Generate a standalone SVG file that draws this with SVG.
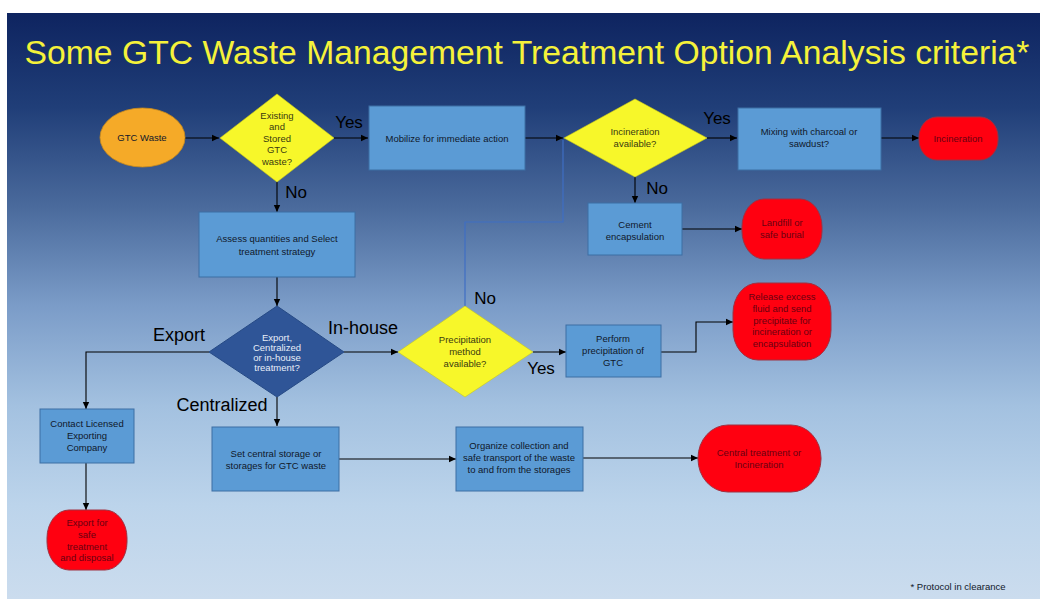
<svg xmlns="http://www.w3.org/2000/svg" width="1040" height="599" viewBox="0 0 1040 599">
  <defs>
    <linearGradient id="bg" x1="0" y1="0" x2="0" y2="1">
      <stop offset="0" stop-color="#0e2460"/>
      <stop offset="0.16" stop-color="#203e78"/>
      <stop offset="0.33" stop-color="#4a6a9c"/>
      <stop offset="0.5" stop-color="#7b9cc8"/>
      <stop offset="0.67" stop-color="#a3c1e0"/>
      <stop offset="0.84" stop-color="#bcd4eb"/>
      <stop offset="1" stop-color="#cbdcee"/>
    </linearGradient>
    <marker id="ah" markerWidth="8" markerHeight="8" refX="7" refY="4" orient="auto" markerUnits="userSpaceOnUse">
      <path d="M0,0.8 L7,4 L0,7.2 Z" fill="#000"/>
    </marker>
    <style>
      .t { font-family: "Liberation Sans", Arial, sans-serif; font-size: 9.5px; text-anchor: middle; }
      .box { fill: #5b9bd5; stroke: #3d6ea3; stroke-width: 1; }
      .term { fill: #ff0010; stroke: #a03040; stroke-width: 1; }
      .yel { fill: #f7f72a; stroke: #c9c91a; stroke-width: 0.6; }
      .dark { fill: #2f5597; stroke: #264a85; stroke-width: 1; }
      .bt { fill: #10182a; }
      .rt { fill: #6a0010; }
      .yt { fill: #3a3a10; }
      .wt { fill: #e8eef8; }
      .lbl { font-family: "Liberation Sans", Arial, sans-serif; font-size: 17px; fill: #000; text-anchor: middle; }
      .lbl2 { font-family: "Liberation Sans", Arial, sans-serif; font-size: 18px; fill: #000; text-anchor: middle; }
      .con { fill: none; stroke: #000; stroke-width: 1.1; }
    </style>
  </defs>
  <rect x="0" y="0" width="1040" height="599" fill="#ffffff"/>
  <rect x="7" y="13" width="1033" height="586" fill="url(#bg)"/>
  <text x="527" y="64" font-family="Liberation Sans, Arial, sans-serif" font-size="33" fill="#f5f23a" text-anchor="middle" textLength="1005" lengthAdjust="spacingAndGlyphs">Some GTC Waste Management Treatment Option Analysis criteria*</text>

  <g id="connectors">
    <line class="con" x1="185" y1="138" x2="219" y2="138" marker-end="url(#ah)"/>
    <line class="con" x1="334" y1="138" x2="368" y2="138" marker-end="url(#ah)"/>
    <line class="con" x1="525" y1="138" x2="563" y2="138" marker-end="url(#ah)"/>
    <line class="con" x1="707" y1="138" x2="737" y2="138" marker-end="url(#ah)"/>
    <line class="con" x1="881" y1="138" x2="919" y2="138" marker-end="url(#ah)"/>
    <line class="con" x1="635" y1="177" x2="635" y2="203" marker-end="url(#ah)"/>
    <line class="con" x1="682" y1="229" x2="742" y2="229" marker-end="url(#ah)"/>
    <line class="con" x1="277" y1="182" x2="277" y2="212" marker-end="url(#ah)"/>
    <line class="con" x1="277" y1="277" x2="277" y2="306" marker-end="url(#ah)"/>
    <line class="con" x1="344" y1="352" x2="398" y2="352" marker-end="url(#ah)"/>
    <polyline class="con" points="209,352 86,352 86,409" marker-end="url(#ah)"/>
    <line class="con" x1="277" y1="397" x2="277" y2="426" marker-end="url(#ah)"/>
    <line class="con" x1="533" y1="352" x2="566" y2="352" marker-end="url(#ah)"/>
    <polyline class="con" points="661,352 696,352 696,322 733,322" marker-end="url(#ah)"/>
    <line class="con" x1="86" y1="463" x2="86" y2="510" marker-end="url(#ah)"/>
    <line class="con" x1="339" y1="459" x2="456" y2="459" marker-end="url(#ah)"/>
    <line class="con" x1="583" y1="458" x2="698" y2="458" marker-end="url(#ah)"/>
    <polyline points="465,306 465,222 563,222 563,140" fill="none" stroke="#3f6ec4" stroke-width="1.2"/>
  </g>

  <g id="labels">
    <text class="lbl" x="349" y="128">Yes</text>
    <text class="lbl" x="296" y="198">No</text>
    <text class="lbl" x="717" y="124">Yes</text>
    <text class="lbl" x="657" y="194">No</text>
    <text class="lbl" x="485" y="304">No</text>
    <text class="lbl" x="541" y="374">Yes</text>
    <text class="lbl2" x="179" y="341">Export</text>
    <text class="lbl2" x="363" y="334">In-house</text>
    <text class="lbl2" x="222" y="411">Centralized</text>
  </g>

  <g id="gtc-waste">
    <ellipse cx="142.5" cy="137.5" rx="42.5" ry="29.5" fill="#f5aa28" stroke="#c98a1c" stroke-width="0.8"/>
    <text class="t bt" x="142" y="141">GTC Waste</text>
  </g>
  <g id="existing-stored">
    <polygon class="yel" points="277,94 334,138 277,182 220,138"/>
    <text class="t yt" x="277" y="118.5">Existing</text>
    <text class="t yt" x="277" y="130">and</text>
    <text class="t yt" x="277" y="141.5">Stored</text>
    <text class="t yt" x="277" y="153">GTC</text>
    <text class="t yt" x="277" y="164.5">waste?</text>
  </g>
  <g id="mobilize">
    <rect class="box" x="369" y="106" width="156" height="64"/>
    <text class="t bt" x="447" y="141.5">Mobilize for immediate action</text>
  </g>
  <g id="incineration-available">
    <polygon class="yel" points="635,99 707,138 635,177 564,138"/>
    <text class="t yt" x="635" y="135">Incineration</text>
    <text class="t yt" x="635" y="147">available?</text>
  </g>
  <g id="mixing">
    <rect class="box" x="738" y="108" width="143" height="62"/>
    <text class="t bt" x="809" y="135">Mixing with charcoal or</text>
    <text class="t bt" x="809" y="147">sawdust?</text>
  </g>
  <g id="incineration">
    <rect class="term" x="919" y="117" width="79" height="43" rx="18" ry="20"/>
    <text class="t rt" x="958" y="141.5">Incineration</text>
  </g>
  <g id="cement">
    <rect class="box" x="588" y="203" width="94" height="52"/>
    <text class="t bt" x="635" y="227.5">Cement</text>
    <text class="t bt" x="635" y="239.5">encapsulation</text>
  </g>
  <g id="landfill">
    <rect class="term" x="742" y="199" width="80" height="60" rx="22" ry="28"/>
    <text class="t rt" x="782" y="226">Landfill or</text>
    <text class="t rt" x="782" y="238">safe burial</text>
  </g>
  <g id="assess">
    <rect class="box" x="199" y="212" width="156" height="65"/>
    <text class="t bt" x="277" y="241.5">Assess quantities and Select</text>
    <text class="t bt" x="277" y="255">treatment strategy</text>
  </g>
  <g id="export-centralized">
    <polygon class="dark" points="277,306 344,352 277,397 209,352"/>
    <text class="t wt" x="277" y="340.5">Export,</text>
    <text class="t wt" x="277" y="350.5">Centralized</text>
    <text class="t wt" x="277" y="360.5">or in-house</text>
    <text class="t wt" x="277" y="370.5">treatment?</text>
  </g>
  <g id="precipitation-available">
    <polygon class="yel" points="465,306 533,352 465,397 398,352"/>
    <text class="t yt" x="465" y="343">Precipitation</text>
    <text class="t yt" x="465" y="355">method</text>
    <text class="t yt" x="465" y="366.5">available?</text>
  </g>
  <g id="perform">
    <rect class="box" x="566" y="325" width="95" height="52"/>
    <text class="t bt" x="613" y="342">Perform</text>
    <text class="t bt" x="613" y="354">precipitation of</text>
    <text class="t bt" x="613" y="366">GTC</text>
  </g>
  <g id="release">
    <rect class="term" x="733" y="283" width="98" height="77" rx="25" ry="30"/>
    <text class="t rt" x="782" y="300">Release excess</text>
    <text class="t rt" x="782" y="312">fluid and send</text>
    <text class="t rt" x="782" y="323.5">precipitate for</text>
    <text class="t rt" x="782" y="335">incineration or</text>
    <text class="t rt" x="782" y="347">encapsulation</text>
  </g>
  <g id="contact">
    <rect class="box" x="40" y="409" width="94" height="54"/>
    <text class="t bt" x="87" y="427">Contact Licensed</text>
    <text class="t bt" x="87" y="439">Exporting</text>
    <text class="t bt" x="87" y="451">Company</text>
  </g>
  <g id="export-disposal">
    <rect class="term" x="47" y="510" width="80" height="60" rx="22" ry="28"/>
    <text class="t rt" x="87" y="526">Export for</text>
    <text class="t rt" x="87" y="538">safe</text>
    <text class="t rt" x="87" y="549.5">treatment</text>
    <text class="t rt" x="87" y="561">and disposal</text>
  </g>
  <g id="central-storage">
    <rect class="box" x="212" y="427" width="127" height="64"/>
    <text class="t bt" x="276" y="457">Set central storage or</text>
    <text class="t bt" x="276" y="469">storages for GTC waste</text>
  </g>
  <g id="organize">
    <rect class="box" x="456" y="427" width="127" height="64"/>
    <text class="t bt" x="519" y="449">Organize collection and</text>
    <text class="t bt" x="519" y="461">safe transport of the waste</text>
    <text class="t bt" x="519" y="473">to and from the storages</text>
  </g>
  <g id="central-treatment">
    <rect class="term" x="698" y="425" width="123" height="67" rx="30" ry="33"/>
    <text class="t rt" x="759" y="456">Central treatment or</text>
    <text class="t rt" x="759" y="468">Incineration</text>
  </g>
  <text x="958" y="590" font-family="Liberation Sans, Arial, sans-serif" font-size="9.5" fill="#10182a" text-anchor="middle">* Protocol in clearance</text>
</svg>
